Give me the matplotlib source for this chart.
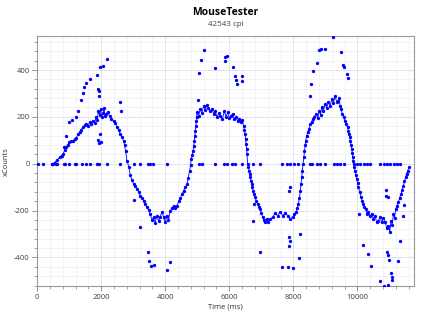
import matplotlib
matplotlib.use("Agg")
import matplotlib.pyplot as plt
from matplotlib.ticker import MultipleLocator

plt.rcParams["font.family"] = ["Open Sans", "DejaVu Sans"]
plt.rcParams["axes.unicode_minus"] = False

# main trace (time in ms, counts)
curve_ms = [
    469, 541, 616, 697, 760, 803, 860, 906, 960, 1009,
    1060, 1116, 1170, 1219, 1270, 1322, 1370, 1428, 1480, 1531,
    1580, 1634, 1690, 1741, 1790, 1844, 1880, 1910, 1947, 1980,
    2010, 2053, 2090, 2120, 2156, 2200, 2259, 2320, 2384, 2440,
    2491, 2540, 2594, 2650, 2697, 2730, 2759, 2803, 2866, 2906,
    2960, 3010, 3060, 3116, 3170, 3219, 3270, 3322, 3380, 3428,
    3480, 3531, 3580, 3634, 3680, 3741, 3790, 3844, 3900, 3947,
    4000, 4053, 4100, 4156, 4210, 4259, 4310, 4366, 4420, 4469,
    4520, 4572, 4630, 4678, 4720, 4759, 4790, 4813, 4840, 4866,
    4890, 4906, 4925, 4938, 4955, 4969, 4980, 4991, 5040, 5094,
    5140, 5197, 5250, 5303, 5350, 5406, 5460, 5509, 5560, 5616,
    5670, 5719, 5780, 5844, 5900, 5947, 6000, 6053, 6100, 6156,
    6210, 6259, 6310, 6366, 6410, 6447, 6470, 6491, 6510, 6522,
    6540, 6553, 6572, 6595, 6616, 6636, 6656, 6676, 6697, 6720,
    6741, 6770, 6803, 6840, 6884, 6930, 6969, 7000, 7041, 7080,
    7116, 7170, 7219, 7280, 7353, 7430, 7509, 7590, 7666, 7740,
    7822, 7900, 7978, 8030, 8084, 8120, 8156, 8190, 8219, 8240,
    8259, 8280, 8303, 8325, 8344, 8365, 8384, 8415, 8447, 8490,
    8531, 8570, 8603, 8650, 8709, 8760, 8813, 8850, 8884, 8940,
    8991, 9040, 9094, 9150, 9197, 9250, 9303, 9350, 9406, 9430,
    9459, 9495, 9531, 9570, 9616, 9655, 9697, 9720, 9741, 9760,
    9781, 9800, 9822, 9838, 9853, 9870, 9884, 9905, 9928, 9950,
    9978, 10005, 10031, 10070, 10116, 10150, 10188, 10220, 10259, 10300,
    10344, 10400, 10447, 10500, 10553, 10600, 10656, 10710, 10759, 10810,
    10866, 10920, 10969, 11010, 11053, 11090, 11125, 11160, 11197, 11240,
    11281, 11320, 11366, 11400, 11438, 11470, 11509, 11540, 11572, 11616,
]
curve_counts = [
    0, 4, 16, 27, 35, 41, 58, 70, 82, 91,
    95, 98, 104, 110, 125, 134, 146, 155, 165, 169,
    160, 176, 170, 183, 175, 198, 185, 225, 209, 232,
    200, 215, 238, 205, 212, 222, 205, 190, 181, 172,
    155, 145, 127, 112, 98, 78, 55, 13, -15, -50,
    -70, -87, -95, -108, -120, -136, -145, -158, -172, -186,
    -198, -214, -240, -229, -252, -222, -245, -226, -205, -229,
    -250, -222, -240, -200, -190, -179, -188, -179, -160, -146,
    -130, -115, -100, -87, -60, -30, -5, 20, 38, 55,
    75, 98, 120, 141, 160, 183, 200, 219, 205, 233,
    215, 247, 230, 252, 238, 223, 235, 212, 225, 198,
    215, 205, 190, 223, 200, 219, 195, 205, 212, 191,
    200, 181, 190, 176, 185, 162, 145, 127, 105, 84,
    62, 41, -1, -15, -30, -45, -58, -72, -87, -100,
    -115, -128, -143, -158, -172, -185, -193, -210, -229, -240,
    -250, -238, -250, -235, -229, -212, -222, -205, -222, -210,
    -222, -235, -229, -215, -207, -190, -172, -145, -115, -85,
    -58, -30, -1, 28, 55, 78, 98, 118, 134, 150,
    169, 180, 191, 200, 212, 195, 226, 210, 240, 225,
    255, 238, 262, 245, 276, 258, 290, 265, 269, 280,
    247, 232, 212, 198, 183, 170, 155, 140, 127, 112,
    98, 80, 63, 45, 27, 12, -1, -15, -30, -48,
    -65, -82, -101, -120, -143, -158, -172, -185, -193, -215,
    -207, -225, -214, -235, -222, -250, -243, -228, -250, -232,
    -250, -275, -264, -290, -243, -260, -214, -230, -193, -180,
    -165, -145, -129, -112, -94, -75, -58, -42, -30, -13,
]

# reports with no movement
zero_ms = [
    40, 197, 469, 509, 572, 616, 822, 866, 1009, 1166,
    1219, 1406, 1531, 1634, 1866, 1928, 2178, 2572, 3010, 3220,
    3450, 3510, 3630, 4050, 5040, 5150, 5560, 5840, 5925, 6080,
    6190, 6397, 6730, 6969, 7647, 7803, 7906, 8009, 8160, 8531,
    8584, 8741, 8844, 9000, 9260, 9366, 9469, 9594, 9990, 10094,
    10197, 10303, 10406, 10719, 10822, 10928, 11031, 11134, 11240, 11344,
]

# stray reports off the main trace
stray_ms = [
    822, 906, 1009, 1094, 1197, 1272, 1353, 1428, 1447, 1531,
    1634, 1875, 1947, 2053, 2178, 1897, 1916, 1928, 1947, 1897,
    1916, 1978, 2572, 2625, 3010, 3219, 3447, 3500, 3553, 3634,
    4053, 4156, 5022, 5041, 5125, 5219, 5563, 5853, 5853, 5928,
    6103, 6188, 6209, 6228, 6384, 6384, 6759, 6728, 6969, 7647,
    7822, 7991, 7875, 7906, 7875, 7885, 7875, 8219, 8166, 8531,
    8553, 8603, 8741, 8813, 8866, 8991, 9250, 9491, 9563, 9594,
    9666, 9697, 10053, 10188, 10322, 10428, 10897, 10897, 10969, 11334,
    10916, 10969, 10991, 11259, 11053, 11094, 11094, 10719, 10844, 10969,
    11469, 11438,
]
stray_counts = [
    72, 119, 176, 186, 200, 223, 272, 304, 326, 343,
    361, 380, 411, 417, 446, 318, 309, 290, 127, 101,
    87, 91, 262, 226, -153, -269, -378, -414, -437, -432,
    -453, -418, 273, 387, 443, 485, 408, 456, 439, 461,
    414, 375, 357, 340, 373, 351, -172, -246, -378, -439,
    -442, -446, -115, -98, -314, -330, -350, -300, -402, 290,
    340, 397, 432, 486, 489, 489, 542, 475, 422, 414,
    382, 364, -214, -345, -385, -435, -112, -136, -141, -331,
    -378, -388, -411, -416, -465, -484, -495, -499, -522, -516,
    -175, -222,
]

BLUE = "#0000ff"

fig = plt.figure(figsize=(4.25, 3.19), dpi=100)
ax = fig.add_axes([0.0875, 0.102, 0.886, 0.785])

ax.plot(curve_ms, curve_counts, color=BLUE, lw=0.6, marker="o", ms=2.4, mew=0, zorder=3)
ax.plot(zero_ms, [0] * len(zero_ms), ls="none", color=BLUE, marker="o", ms=2.4, mew=0, zorder=3)
ax.plot(stray_ms, stray_counts, ls="none", color=BLUE, marker="o", ms=2.4, mew=0, zorder=3)

ax.set_xlim(0, 11760)
ax.set_ylim(-524, 545)
ax.xaxis.set_major_locator(MultipleLocator(2000))
ax.xaxis.set_minor_locator(MultipleLocator(400))
ax.yaxis.set_major_locator(MultipleLocator(200))
ax.yaxis.set_minor_locator(MultipleLocator(40))

ax.grid(which="major", color="#dedeee", lw=0.6, zorder=0)
ax.grid(which="minor", color="#ededf7", lw=0.5, zorder=0)
ax.set_axisbelow(True)

for s in ax.spines.values():
    s.set_color("#999999")
    s.set_linewidth(0.8)
ax.tick_params(which="major", length=3.5, width=0.6, color="#808080", labelsize=5.5, labelcolor="#404040", pad=2)
ax.tick_params(which="minor", length=2, width=0.5, color="#808080")

ax.set_xlabel("Time (ms)", fontsize=5.5, color="#303030", labelpad=2)
ax.set_ylabel("xCounts", fontsize=5.5, color="#303030", labelpad=3)

ax_mid = 0.0875 + 0.886 / 2
fig.text(ax_mid, 0.962, "MouseTester", ha="center", va="center", fontsize=7.5, fontweight="bold", color="#000000")
fig.text(ax_mid, 0.923, "42543 cpi", ha="center", va="center", fontsize=5.8, color="#404040")

fig.savefig("out.png", dpi=100)
